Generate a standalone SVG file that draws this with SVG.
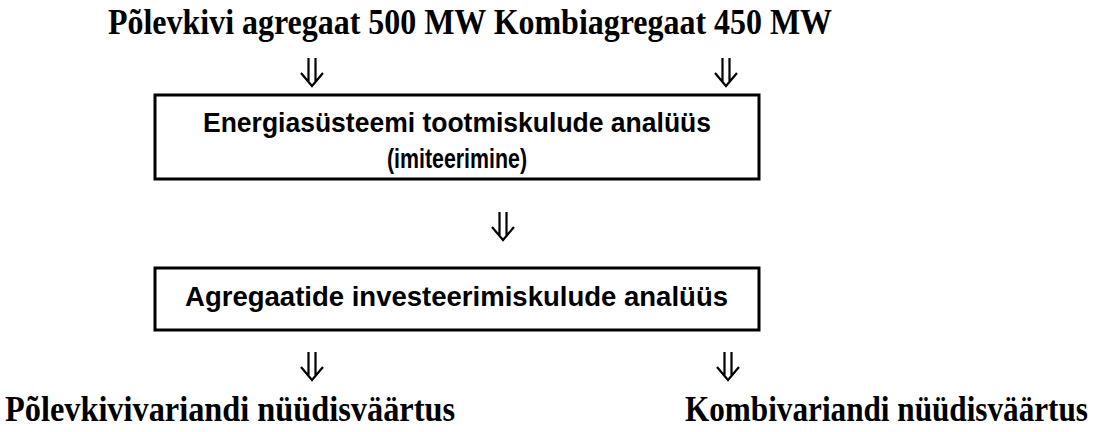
<svg xmlns="http://www.w3.org/2000/svg" width="1098" height="432" viewBox="0 0 1098 432">
<style>
.t{font-family:"Liberation Serif","Times New Roman",serif;font-weight:bold;font-size:35px;fill:#000}
.b{font-family:"Liberation Sans",Arial,sans-serif;font-weight:bold;font-size:27px;fill:#000}
.box{fill:#fff;stroke:#000;stroke-width:3}
.arr{fill:none;stroke:#000;stroke-width:2.2}
</style>
<defs>
<g id="dar">
<path class="arr" d="M-3.5,-28 V-5 M3.5,-28 V-5 M-11,-13 L0,0 L11,-13"/>
</g>
</defs>
<rect width="1098" height="432" fill="#fff"/>
<g id="inputs">
<text class="t" transform="translate(108,34) scale(0.85,1)" x="0" y="0" textLength="851.8" lengthAdjust="spacingAndGlyphs">Põlevkivi agregaat 500 MW Kombiagregaat 450 MW</text>
</g>
<g id="connectors">
<use href="#dar" x="312" y="86"/>
<use href="#dar" x="726" y="86"/>
<use href="#dar" x="503" y="240"/>
<use href="#dar" x="312" y="380"/>
<use href="#dar" x="728" y="380"/>
</g>
<g id="box1">
<rect class="box" x="155" y="95" width="604" height="84"/>
<text class="b" x="203" y="132" textLength="508" lengthAdjust="spacingAndGlyphs">Energiasüsteemi tootmiskulude analüüs</text>
<text class="b" x="387" y="168" textLength="140" lengthAdjust="spacingAndGlyphs">(imiteerimine)</text>
</g>
<g id="box2">
<rect class="box" x="155" y="268" width="604" height="62"/>
<text class="b" x="185" y="306" textLength="543" lengthAdjust="spacingAndGlyphs">Agregaatide investeerimiskulude analüüs</text>
</g>
<g id="out1">
<text class="t" transform="translate(5,421) scale(0.85,1)" x="0" y="0" textLength="529.4" lengthAdjust="spacingAndGlyphs">Põlevkivivariandi nüüdisväärtus</text>
</g>
<g id="out2">
<text class="t" transform="translate(685,421) scale(0.85,1)" x="0" y="0" textLength="474.1" lengthAdjust="spacingAndGlyphs">Kombivariandi nüüdisväärtus</text>
</g>
</svg>
